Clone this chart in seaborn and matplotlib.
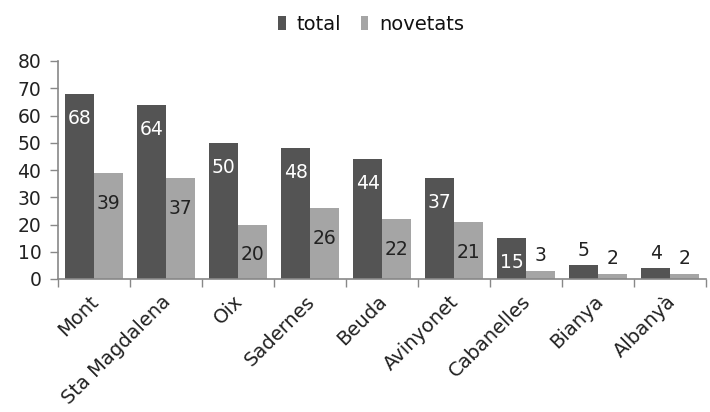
import matplotlib
matplotlib.use("Agg")
import matplotlib.pyplot as plt
import matplotlib.transforms as mtransforms
import seaborn as sns
import pandas as pd
from matplotlib.ticker import FixedLocator

categories = ["Mont", "Sta Magdalena", "Oix", "Sadernes", "Beuda",
              "Avinyonet", "Cabanelles", "Bianya", "Albanyà"]
total = [68, 64, 50, 48, 44, 37, 15, 5, 4]
novetats = [39, 37, 20, 26, 22, 21, 3, 2, 2]
series = ["total", "novetats"]
colors = ["#545454", "#a5a5a5"]
yticks = [0, 10, 20, 30, 40, 50, 60, 70, 80]

df = pd.DataFrame({
    "cat": categories * 2,
    "serie": ["total"] * len(categories) + ["novetats"] * len(categories),
    "val": total + novetats,
})

sns.set_style("white")
plt.rcParams["font.family"] = ["DejaVu Sans"]

fig = plt.figure(figsize=(7.1, 4.12), dpi=100)
ax = fig.add_axes([58 / 710, 1 - 279 / 412, 648 / 710, 218 / 412])

sns.barplot(data=df, x="cat", y="val", hue="serie", hue_order=series,
            palette=colors, width=0.8, saturation=1, ax=ax,
            order=categories, legend=True, linewidth=0, edgecolor="none")

ax.set_ylim(0, 80)
ax.set_xlim(-0.5, len(categories) - 0.5)
ax.set_yticks(yticks)
ax.set_xlabel("")
ax.set_ylabel("")
for s in ["top", "right"]:
    ax.spines[s].set_visible(False)
for s in ["left", "bottom"]:
    ax.spines[s].set_color("#888888")
    ax.spines[s].set_linewidth(1.2)

ax.tick_params(axis="y", which="major", length=6, width=1, color="#888888",
               labelsize=13.5, labelcolor="#222222", pad=6, direction="out", left=True)
ax.tick_params(axis="x", which="major", length=0, labelsize=14, labelcolor="#222222", pad=14)
ax.xaxis.set_minor_locator(FixedLocator([i + 0.5 for i in range(-1, len(categories))]))
ax.tick_params(axis="x", which="minor", length=6, width=1, color="#888888",
               direction="out", bottom=True)
offset = mtransforms.ScaledTranslation(2 / 100, 0, fig.dpi_scale_trans)
for lab in ax.get_xticklabels():
    lab.set_rotation(45)
    lab.set_ha("right")
    lab.set_va("center")
    lab.set_rotation_mode("anchor")
    lab.set_transform(lab.get_transform() + offset)

for ci, cont in enumerate(ax.containers):
    for bar in cont:
        h = bar.get_height()
        xc = bar.get_x() + bar.get_width() / 2
        if h >= 10:
            ax.annotate(f"{int(round(h))}", (xc, h), xytext=(0, -11 if ci == 0 else -15),
                        textcoords="offset points", ha="center", va="top",
                        fontsize=13.5,
                        color="white" if ci == 0 else "#222222")
        else:
            ax.annotate(f"{int(round(h))}", (xc, h), xytext=(0, 4),
                        textcoords="offset points", ha="center", va="bottom",
                        fontsize=13.5, color="#222222")

leg = ax.legend(loc="upper center", ncol=2, frameon=False, fontsize=14,
                handlelength=0.4, handleheight=0.75, handletextpad=0.55,
                columnspacing=1.0, borderpad=0.1)
leg.set_bbox_to_anchor((371 / 710, 1 - 3 / 412), transform=fig.transFigure)
for t in leg.get_texts():
    t.set_color("#111111")

fig.savefig("out.png", dpi=100)
